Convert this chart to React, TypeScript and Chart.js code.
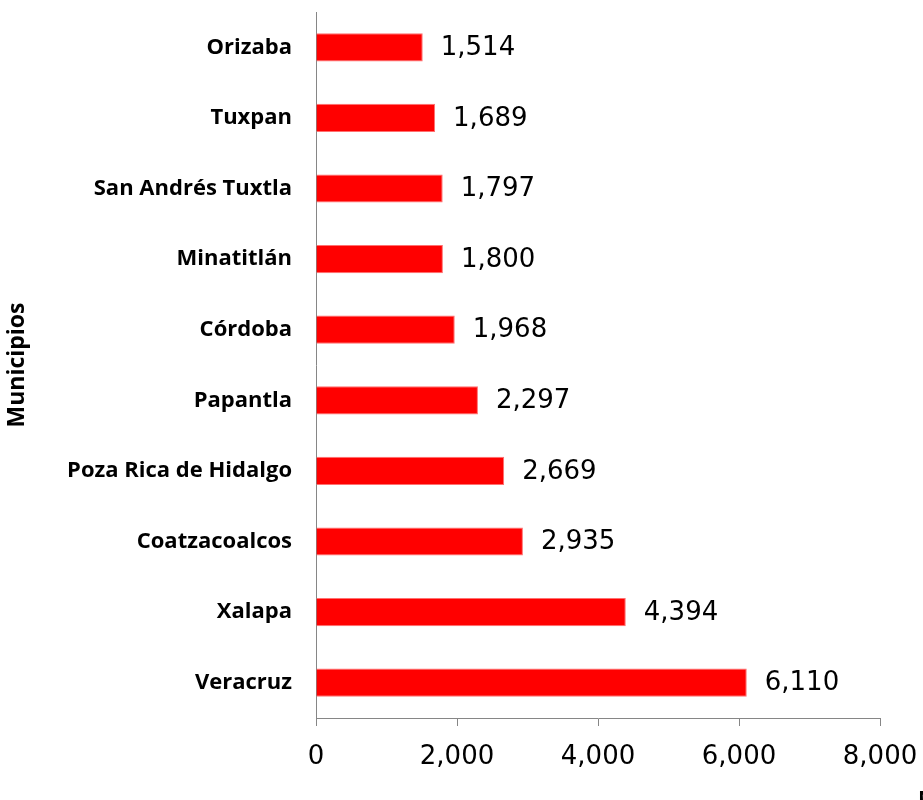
import React, { useEffect, useRef } from "react";
import { Chart, registerables } from "chart.js";

Chart.register(...registerables);

const categories = [
  "Orizaba",
  "Tuxpan",
  "San Andrés Tuxtla",
  "Minatitlán",
  "Córdoba",
  "Papantla",
  "Poza Rica de Hidalgo",
  "Coatzacoalcos",
  "Xalapa",
  "Veracruz",
];
const values = [1514, 1689, 1797, 1800, 1968, 2297, 2669, 2935, 4394, 6110];
const xMin = 0;
const xMax = 8000;
const xStep = 2000;
const yTitle = "Municipios";
const xTitleClipped = "Número";

const fmt = (v: number) => v.toLocaleString("en-US");

const labelPlugin = {
  id: "valueLabels",
  afterDatasetsDraw(chart: any) {
    const ctx = chart.ctx;
    const meta = chart.getDatasetMeta(0);
    ctx.save();
    ctx.font = "26px 'DejaVu Sans'";
    ctx.fillStyle = "#000";
    ctx.textAlign = "left";
    ctx.textBaseline = "middle";
    meta.data.forEach((el: any, i: number) => {
      ctx.fillText(fmt(values[i]), el.x + 18, el.y + 1);
    });
    // clipped x-axis title at bottom-right edge
    ctx.font = "bold 22px 'Open Sans'";
    ctx.textBaseline = "alphabetic";
    ctx.fillText(xTitleClipped, 918, 806);
    ctx.restore();
  },
};

export default function App() {
  const ref = useRef<HTMLCanvasElement>(null);
  useEffect(() => {
    document.body.style.margin = "0";
    const chart = new Chart(ref.current!, {
      type: "bar",
      data: {
        labels: categories,
        datasets: [
          {
            data: values,
            backgroundColor: "#FF0000",
            borderColor: "#FF7070",
            borderWidth: 1,
            categoryPercentage: 0.8,
            barPercentage: 0.5,
          },
        ],
      },
      options: {
        indexAxis: "y",
        animation: false,
        responsive: false,
        layout: { padding: { top: 12, right: 43, left: 0, bottom: 0 } },
        plugins: { legend: { display: false }, tooltip: { enabled: false } },
        scales: {
          x: {
            min: xMin,
            max: xMax,
            ticks: {
              stepSize: xStep,
              color: "#000",
              font: { family: "'DejaVu Sans'", size: 26 },
              padding: 16,
              maxRotation: 0,
              callback: (v: any) => fmt(Number(v)),
            },
            grid: {
              display: true,
              drawOnChartArea: false,
              drawTicks: true,
              tickLength: 8,
              color: "#868686",
            },
            border: { display: true, color: "#868686", width: 1 },
            afterFit: (s: any) => {
              s.height = 82;
              s.paddingLeft = 0;
              s.paddingRight = 0;
            },
          },
          y: {
            ticks: {
              color: "#000",
              font: { family: "'Open Sans'", size: 22, weight: "bold" },
              padding: 24,
            },
            grid: { display: false, drawTicks: false },
            border: { display: true, color: "#868686", width: 1 },
            title: {
              display: true,
              text: yTitle,
              color: "#000",
              font: { family: "'Open Sans'", size: 23, weight: "bold" },
              padding: { top: 4, bottom: 0 },
            },
            afterFit: (s: any) => {
              s.width = 316;
              s.paddingTop = 0;
              s.paddingBottom = 0;
            },
          },
        },
      },
      plugins: [labelPlugin],
    });
    return () => chart.destroy();
  }, []);
  return <canvas ref={ref} width={923} height={800} style={{ display: "block" }} />;
}
